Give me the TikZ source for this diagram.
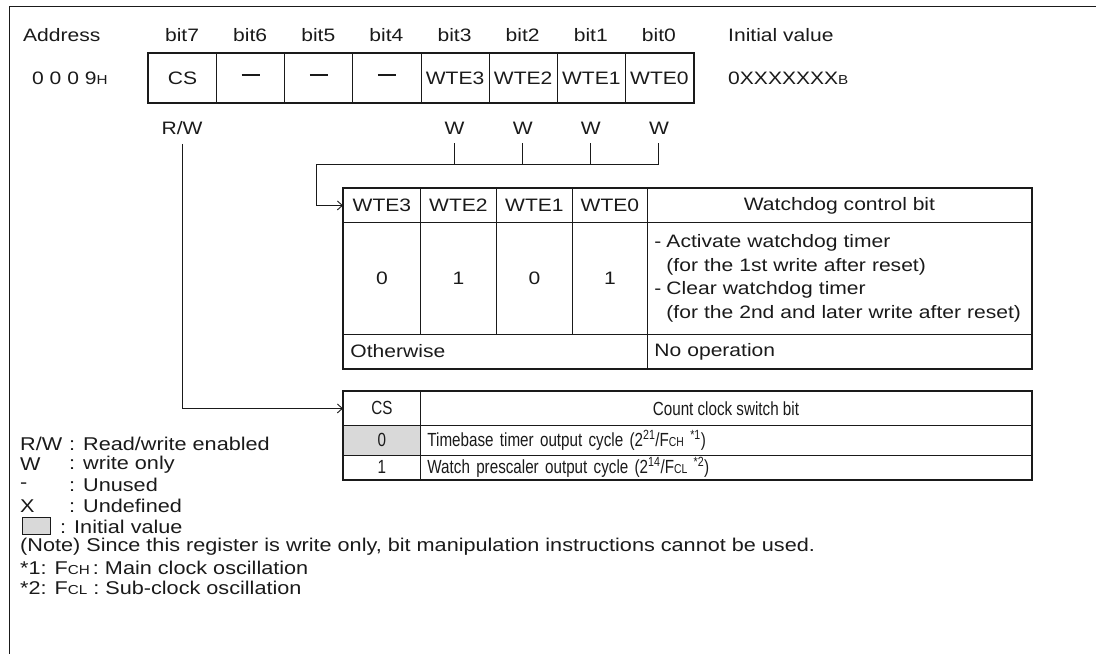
\documentclass[tikz,border=0pt]{standalone}
\usepackage{fontspec}
\setmainfont[FakeStretch=1.17]{Liberation Sans}
\newfontfamily\narrowfont[FakeStretch=0.8]{Liberation Sans}
\usetikzlibrary{arrows.meta}
\definecolor{initgray}{HTML}{D9D9D9}
\definecolor{lineblack}{HTML}{1A1A1A}
\newcommand{\mainsize}{\fontsize{18}{23.5}\selectfont}
\newcommand{\sm}[1]{{\fontsize{13}{13}\selectfont #1}}
\newcommand{\nodash}{\rule[6pt]{18pt}{2pt}}

\begin{document}
\begin{tikzpicture}[x=1pt, y=-1pt,
    every node/.style={font=\mainsize, inner sep=0pt, text=lineblack},
    thin/.style={line width=0.9pt, draw=lineblack},
    outerbox/.style={line width=2.2pt, draw=lineblack},
    regcell/.style={draw=lineblack, line width=0.9pt, anchor=north west,
      minimum width=68.125, minimum height=49},
    tcell/.style={draw=lineblack, line width=0.9pt, anchor=north west},
    lcell/.style={tcell, align=left, inner xsep=7pt},
    busarrow/.style={thin, -{Straight Barb[length=5pt, width=9pt]}},
    key/.style={anchor=west},
    legend/.style={key, font=\fontsize{18.5}{20}\selectfont}
  ]
  \useasboundingbox (0,0) rectangle (1096,654);

  % frame (open on right and bottom)
  \draw[thin] (1096,6) -- (9,6) -- (9,654);

  % ---------- register line -------------
  \node[key] (addr) at (23,35) {Address};
  \node[key] (addrval) at (32,78) {0 0 0 9\sm{H}};
  \foreach \b [count=\i from 0] in {7,6,5,4,3,2,1,0}
    \node (bit\b) at (182.06+68.125*\i,35) {bit\b};
  \foreach \t [count=\i from 0] in {CS,\nodash,\nodash,\nodash,WTE3,WTE2,WTE1,WTE0}
    \node[regcell] (reg\i) at (148+68.125*\i,53) {\t};
  \draw[outerbox] (reg0.north west) rectangle (reg7.south east);
  \node[key] (initlab) at (728,35) {Initial value};
  \node[key] (initval) at (728,78) {0XXXXXXX\sm{B}};

  % access attributes
  \node (rw) at (bit7 |- 0,128) {R/W};
  \foreach \b in {3,2,1,0}
    \node (w\b) at (bit\b |- 0,128) {W};

  % ---------- WTE table -------------
  \foreach \b/\x/\w/\v in {3/343/77/0, 2/420/76/1, 1/496/76/0, 0/572/75/1} {
    \node[tcell, minimum width=\w, minimum height=34] (hw\b) at (\x,188) {WTE\b};
    \node[tcell, minimum width=\w, minimum height=112] (vw\b) at (\x,222) {\v};
  }
  \node[tcell, minimum width=384, minimum height=34] (hwd) at (647,188) {Watchdog control bit};
  \node[lcell, text width=370, minimum height=112] (vwd) at (647,222)
    {\begin{tabular}{@{}l@{\hspace{5pt}}l@{}}
      - & Activate watchdog timer\\
        & (for the 1st write after reset)\\
      - & Clear watchdog timer\\
        & (for the 2nd and later write after reset)
     \end{tabular}};
  \node[lcell, text width=290, minimum height=34] (woth) at (343,334) {Otherwise};
  \node[lcell, text width=370, minimum height=34] (wnop) at (647,334) {No operation};
  \draw[outerbox] (hw3.north west) rectangle (wnop.south east);

  % ---------- CS table -------------
  \begin{scope}[every node/.append style={font=\narrowfont\fontsize{19}{20}\selectfont}]
    \node[tcell, minimum width=77, minimum height=34] (csh) at (343,391) {CS};
    \node[tcell, minimum width=611, minimum height=34] (csd) at (420,391) {Count clock switch bit};
    \node[tcell, fill=initgray, minimum width=77, minimum height=30] (cs0) at (343,425) {0};
    \node[lcell, text width=597, minimum height=30] (cs0d) at (420,425)
      {Timebase timer output cycle (2\textsuperscript{21}/F\sm{CH} \textsuperscript{*1})};
    \node[tcell, minimum width=77, minimum height=24] (cs1) at (343,455) {1};
    \node[lcell, text width=597, minimum height=24] (cs1d) at (420,455)
      {Watch prescaler output cycle (2\textsuperscript{14}/F\sm{CL} \textsuperscript{*2})};
  \end{scope}
  \draw[outerbox] (csh.north west) rectangle (cs1d.south east);

  % ---------- connectors -------------
  \coordinate (busl) at (316,164);
  \foreach \b in {3,2,1,0}
    \draw[thin, shorten <=9pt] (w\b.south) -- (w\b.south |- busl);
  \draw[busarrow] (w0.south |- busl) -- (busl) |- (hw3.west);
  \draw[busarrow, shorten <=9pt] (rw.south) |- (csh.west);

  % ---------- legend -------------
  \node[legend] (lrw)  at (20,444) {R/W};
  \node[legend] (lrwt) at (69,444) {: Read/write enabled};
  \node[legend] (lw)   at (20,464.6) {W};
  \node[legend] (lwt)  at (69,464.6) {: write only};
  \node[legend] (lu)   at (20,485.2) {-};
  \node[legend] (lut)  at (69,485.2) {: Unused};
  \node[legend] (lx)   at (20,505.8) {X};
  \node[legend] (lxt)  at (69,505.8) {: Undefined};
  \node[draw=lineblack, line width=0.9pt, fill=initgray, minimum width=28, minimum height=17,
        anchor=west] (lbox) at (22,526.4) {};
  \node[legend] (lboxt) at (60,526.4) {: Initial value};
  \node[legend] (note) at (20,547)
    {(Note) Since this register is write only, bit manipulation instructions cannot be used.};
  \node[legend] (fn1) at (20,567.6) {*1: F\sm{CH}\,: Main clock oscillation};
  \node[legend] (fn2) at (20,588.2) {*2: F\sm{CL} : Sub-clock oscillation};
\end{tikzpicture}
\end{document}
